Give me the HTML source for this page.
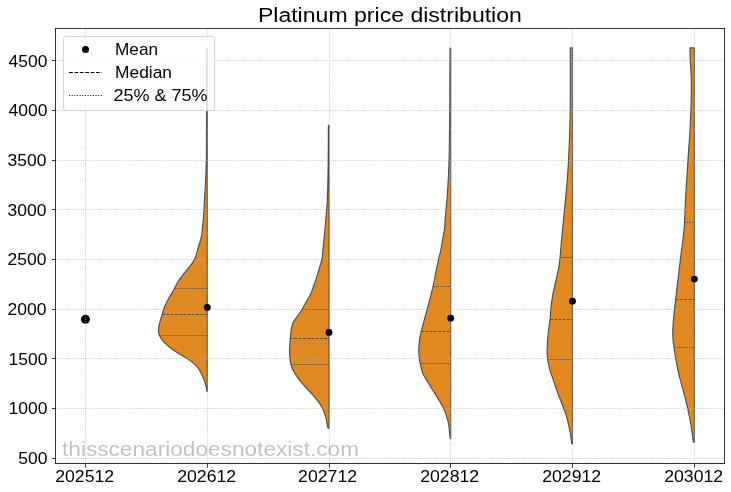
<!DOCTYPE html><html><head><meta charset="utf-8"><title>Platinum price distribution</title>
<style>html,body{margin:0;padding:0;background:#fff;}svg{display:block;will-change:transform;}text{font-family:"Liberation Sans",sans-serif;}</style></head><body>
<svg width="731" height="492" viewBox="0 0 731 492">
<rect x="0" y="0" width="731" height="492" fill="#fff"/>
<path d="M206.70,48.30 C206.68,56.92 206.63,83.05 206.60,100.00 C206.57,116.95 206.58,138.62 206.50,150.00 C206.42,161.38 206.25,163.22 206.10,168.30 C205.95,173.38 205.80,176.43 205.60,180.50 C205.40,184.57 205.13,188.62 204.90,192.70 C204.67,196.78 204.35,202.10 204.20,205.00 C204.05,207.90 204.10,208.40 204.00,210.10 C203.90,211.80 203.73,213.50 203.60,215.20 C203.47,216.90 203.37,218.62 203.20,220.30 C203.03,221.98 202.77,223.62 202.60,225.30 C202.43,226.98 202.37,228.70 202.20,230.40 C202.03,232.10 201.92,233.80 201.60,235.50 C201.28,237.20 200.77,238.90 200.30,240.60 C199.83,242.30 199.30,244.00 198.80,245.70 C198.30,247.40 197.73,249.25 197.30,250.80 C196.87,252.35 196.63,253.62 196.20,255.00 C195.77,256.38 195.37,257.75 194.70,259.10 C194.03,260.45 193.15,261.75 192.20,263.10 C191.25,264.45 190.08,265.83 189.00,267.20 C187.92,268.57 186.78,269.95 185.70,271.30 C184.62,272.65 183.52,273.95 182.50,275.30 C181.48,276.65 180.52,278.03 179.60,279.40 C178.68,280.77 177.77,282.15 177.00,283.50 C176.23,284.85 175.57,286.42 175.00,287.50 C174.43,288.58 174.28,288.82 173.60,290.00 C172.92,291.18 171.78,293.07 170.90,294.60 C170.02,296.13 169.12,297.68 168.30,299.20 C167.48,300.72 166.72,302.18 166.00,303.70 C165.28,305.22 164.57,306.77 164.00,308.30 C163.43,309.83 163.07,311.37 162.60,312.90 C162.13,314.43 161.65,315.98 161.20,317.50 C160.75,319.02 160.30,320.48 159.90,322.00 C159.50,323.52 159.03,325.07 158.80,326.60 C158.57,328.13 158.38,329.72 158.50,331.20 C158.62,332.68 158.98,334.18 159.50,335.50 C160.02,336.82 160.83,337.98 161.60,339.10 C162.37,340.22 163.17,341.18 164.10,342.20 C165.03,343.22 166.07,344.18 167.20,345.20 C168.33,346.22 169.58,347.28 170.90,348.30 C172.22,349.32 173.42,350.22 175.10,351.30 C176.78,352.38 178.85,353.50 181.00,354.80 C183.15,356.10 185.95,357.72 188.00,359.10 C190.05,360.48 191.73,361.75 193.30,363.10 C194.87,364.45 196.25,365.83 197.40,367.20 C198.55,368.57 199.40,369.95 200.20,371.30 C201.00,372.65 201.58,373.95 202.20,375.30 C202.82,376.65 203.40,378.03 203.90,379.40 C204.40,380.77 204.80,382.15 205.20,383.50 C205.60,384.85 206.02,386.18 206.30,387.50 C206.58,388.82 206.80,390.75 206.90,391.40 L207.30,391.40 L207.30,48.30 Z" fill="#df8920" stroke="#4c4c4c" stroke-width="1.125" stroke-linejoin="round"/>
<path d="M328.40,125.40 C328.38,129.50 328.37,141.73 328.30,150.00 C328.23,158.27 328.17,166.67 328.00,175.00 C327.83,183.33 327.58,193.80 327.30,200.00 C327.02,206.20 326.62,208.13 326.30,212.20 C325.98,216.27 325.73,220.33 325.40,224.40 C325.07,228.47 324.70,232.53 324.30,236.60 C323.90,240.67 323.30,245.73 323.00,248.80 C322.70,251.87 322.70,253.20 322.50,255.00 C322.30,256.80 322.12,258.08 321.80,259.60 C321.48,261.12 321.03,262.58 320.60,264.10 C320.17,265.62 319.65,267.17 319.20,268.70 C318.75,270.23 318.35,271.77 317.90,273.30 C317.45,274.83 317.00,276.38 316.50,277.90 C316.00,279.42 315.43,280.88 314.90,282.40 C314.37,283.92 313.85,285.47 313.30,287.00 C312.75,288.53 312.22,290.08 311.60,291.60 C310.98,293.12 310.28,294.77 309.60,296.10 C308.92,297.43 308.28,298.27 307.50,299.60 C306.72,300.93 305.73,302.58 304.90,304.10 C304.07,305.62 303.40,307.17 302.50,308.70 C301.60,310.23 300.53,311.77 299.50,313.30 C298.47,314.83 297.35,316.38 296.30,317.90 C295.25,319.42 293.97,320.88 293.20,322.40 C292.43,323.92 292.07,325.47 291.70,327.00 C291.33,328.53 291.20,330.08 291.00,331.60 C290.80,333.12 290.65,334.70 290.50,336.10 C290.35,337.50 290.20,338.67 290.10,340.00 C290.00,341.33 289.98,342.65 289.90,344.10 C289.82,345.55 289.65,347.17 289.60,348.70 C289.55,350.23 289.55,351.77 289.60,353.30 C289.65,354.83 289.75,356.38 289.90,357.90 C290.05,359.42 290.20,360.88 290.50,362.40 C290.80,363.92 291.15,365.47 291.70,367.00 C292.25,368.53 292.97,370.08 293.80,371.60 C294.63,373.12 295.68,374.60 296.70,376.10 C297.72,377.60 298.57,378.92 299.90,380.60 C301.23,382.28 303.05,384.33 304.70,386.20 C306.35,388.07 308.12,389.95 309.80,391.80 C311.48,393.65 313.22,395.45 314.80,397.30 C316.38,399.15 318.00,401.03 319.30,402.90 C320.60,404.77 321.68,406.63 322.60,408.50 C323.52,410.37 324.18,412.23 324.80,414.10 C325.42,415.97 325.87,417.83 326.30,419.70 C326.73,421.57 327.10,423.87 327.40,425.30 C327.70,426.73 327.98,427.80 328.10,428.30 L329.05,428.30 L329.05,125.40 Z" fill="#df8920" stroke="#4c4c4c" stroke-width="1.125" stroke-linejoin="round"/>
<path d="M450.00,48.10 C449.97,56.75 449.92,83.02 449.80,100.00 C449.68,116.98 449.48,138.33 449.30,150.00 C449.12,161.67 448.90,164.63 448.70,170.00 C448.50,175.37 448.33,178.13 448.10,182.20 C447.87,186.27 447.60,190.33 447.30,194.40 C447.00,198.47 446.65,202.53 446.30,206.60 C445.95,210.67 445.48,215.23 445.20,218.80 C444.92,222.37 445.02,224.60 444.60,228.00 C444.18,231.40 443.35,235.47 442.70,239.20 C442.05,242.93 441.47,246.68 440.70,250.40 C439.93,254.12 438.93,257.78 438.10,261.50 C437.27,265.22 436.32,269.62 435.70,272.70 C435.08,275.78 435.03,276.92 434.40,280.00 C433.77,283.08 432.80,287.47 431.90,291.20 C431.00,294.93 429.98,298.68 429.00,302.40 C428.02,306.12 427.00,309.78 426.00,313.50 C425.00,317.22 423.93,321.12 423.00,324.70 C422.07,328.28 421.00,332.33 420.40,335.00 C419.80,337.67 419.67,338.40 419.40,340.70 C419.13,343.00 418.82,345.82 418.80,348.80 C418.78,351.78 419.08,356.22 419.30,358.60 C419.52,360.98 419.68,361.20 420.10,363.10 C420.52,365.00 421.22,368.02 421.80,370.00 C422.38,371.98 422.65,373.07 423.60,375.00 C424.55,376.93 426.18,379.40 427.50,381.60 C428.82,383.80 430.13,386.00 431.50,388.20 C432.87,390.40 434.32,392.60 435.70,394.80 C437.08,397.00 438.52,399.20 439.80,401.40 C441.08,403.60 442.37,405.80 443.40,408.00 C444.43,410.20 445.23,412.40 446.00,414.60 C446.77,416.80 447.48,419.00 448.00,421.20 C448.52,423.40 448.82,425.60 449.10,427.80 C449.38,430.00 449.52,432.60 449.70,434.40 C449.88,436.20 450.12,437.90 450.20,438.60 L450.70,438.60 L450.70,48.10 Z" fill="#df8920" stroke="#4c4c4c" stroke-width="1.125" stroke-linejoin="round"/>
<path d="M570.20,47.90 C570.22,49.92 570.28,51.32 570.30,60.00 C570.32,68.68 570.38,88.33 570.30,100.00 C570.22,111.67 570.02,121.62 569.80,130.00 C569.58,138.38 569.32,143.53 569.00,150.30 C568.68,157.07 568.35,163.83 567.90,170.60 C567.45,177.37 566.90,184.12 566.30,190.90 C565.70,197.68 564.85,205.62 564.30,211.30 C563.75,216.98 563.38,221.02 563.00,225.00 C562.62,228.98 562.32,231.82 562.00,235.20 C561.68,238.58 561.42,241.65 561.10,245.30 C560.78,248.95 560.43,253.72 560.10,257.10 C559.77,260.48 559.62,262.48 559.10,265.60 C558.58,268.72 557.75,272.42 557.00,275.80 C556.25,279.18 555.33,282.52 554.60,285.90 C553.87,289.28 553.18,292.70 552.60,296.10 C552.02,299.50 551.53,302.40 551.10,306.30 C550.67,310.20 550.38,315.87 550.00,319.50 C549.62,323.13 549.15,325.30 548.80,328.10 C548.45,330.90 548.15,333.58 547.90,336.30 C547.65,339.02 547.43,341.70 547.30,344.40 C547.17,347.10 547.05,350.00 547.10,352.50 C547.15,355.00 547.20,356.68 547.60,359.40 C548.00,362.12 548.72,365.87 549.50,368.80 C550.28,371.73 551.38,374.28 552.30,377.00 C553.22,379.72 554.08,382.40 555.00,385.10 C555.92,387.80 556.73,390.35 557.80,393.20 C558.87,396.05 560.42,399.68 561.40,402.20 C562.38,404.72 562.95,406.27 563.70,408.30 C564.45,410.33 565.25,412.37 565.90,414.40 C566.55,416.43 567.08,418.47 567.60,420.50 C568.12,422.53 568.57,424.57 569.00,426.60 C569.43,428.63 569.85,430.67 570.20,432.70 C570.55,434.73 570.83,436.93 571.10,438.80 C571.37,440.67 571.68,443.05 571.80,443.90 L572.50,443.90 L572.50,47.90 Z" fill="#df8920" stroke="#4c4c4c" stroke-width="1.125" stroke-linejoin="round"/>
<path d="M690.00,47.90 C690.03,49.97 690.05,56.53 690.20,60.30 C690.35,64.07 690.72,67.12 690.90,70.50 C691.08,73.88 691.25,75.53 691.30,80.60 C691.35,85.67 691.33,94.12 691.20,100.90 C691.07,107.68 690.80,114.78 690.50,121.30 C690.20,127.82 689.72,135.17 689.40,140.00 C689.08,144.83 688.95,145.20 688.60,150.30 C688.25,155.40 687.73,163.83 687.30,170.60 C686.87,177.37 686.38,184.12 686.00,190.90 C685.62,197.68 685.27,205.62 685.00,211.30 C684.73,216.98 684.78,220.02 684.40,225.00 C684.02,229.98 683.33,235.78 682.70,241.20 C682.07,246.62 681.27,252.08 680.60,257.50 C679.93,262.92 679.35,268.30 678.70,273.70 C678.05,279.10 677.20,285.62 676.70,289.90 C676.20,294.18 676.05,296.37 675.70,299.40 C675.35,302.43 674.92,305.30 674.60,308.10 C674.28,310.90 674.05,313.48 673.80,316.20 C673.55,318.92 673.27,321.68 673.10,324.40 C672.93,327.12 672.80,329.80 672.80,332.50 C672.80,335.20 672.90,338.12 673.10,340.60 C673.30,343.08 673.62,344.70 674.00,347.40 C674.38,350.10 674.90,353.88 675.40,356.80 C675.90,359.72 676.47,362.18 677.00,364.90 C677.53,367.62 677.93,370.15 678.60,373.10 C679.27,376.05 680.25,379.75 681.00,382.60 C681.75,385.45 682.42,387.65 683.10,390.20 C683.78,392.75 684.45,395.35 685.10,397.90 C685.75,400.45 686.40,402.97 687.00,405.50 C687.60,408.03 688.17,410.57 688.70,413.10 C689.23,415.63 689.73,418.15 690.20,420.70 C690.67,423.25 691.12,425.85 691.50,428.40 C691.88,430.95 692.20,433.70 692.50,436.00 C692.80,438.30 693.17,441.17 693.30,442.20 L694.40,442.20 L694.40,47.90 Z" fill="#df8920" stroke="#4c4c4c" stroke-width="1.125" stroke-linejoin="round"/>
<circle cx="85.45" cy="319.3" r="4.5" fill="#000"/>
<line x1="85.50" y1="28.50" x2="85.50" y2="463.50" stroke="#b0b0b0" stroke-width="0.8" stroke-dasharray="0.8 1.32"/>
<line x1="207.50" y1="28.50" x2="207.50" y2="463.50" stroke="#b0b0b0" stroke-width="0.8" stroke-dasharray="0.8 1.32"/>
<line x1="329.50" y1="28.50" x2="329.50" y2="463.50" stroke="#b0b0b0" stroke-width="0.8" stroke-dasharray="0.8 1.32"/>
<line x1="450.50" y1="28.50" x2="450.50" y2="463.50" stroke="#b0b0b0" stroke-width="0.8" stroke-dasharray="0.8 1.32"/>
<line x1="572.50" y1="28.50" x2="572.50" y2="463.50" stroke="#b0b0b0" stroke-width="0.8" stroke-dasharray="0.8 1.32"/>
<line x1="694.50" y1="28.50" x2="694.50" y2="463.50" stroke="#b0b0b0" stroke-width="0.8" stroke-dasharray="0.8 1.32"/>
<line x1="55.50" y1="458.50" x2="724.50" y2="458.50" stroke="#b0b0b0" stroke-width="0.8" stroke-dasharray="0.8 1.32"/>
<line x1="55.50" y1="408.50" x2="724.50" y2="408.50" stroke="#b0b0b0" stroke-width="0.8" stroke-dasharray="0.8 1.32"/>
<line x1="55.50" y1="358.50" x2="724.50" y2="358.50" stroke="#b0b0b0" stroke-width="0.8" stroke-dasharray="0.8 1.32"/>
<line x1="55.50" y1="309.50" x2="724.50" y2="309.50" stroke="#b0b0b0" stroke-width="0.8" stroke-dasharray="0.8 1.32"/>
<line x1="55.50" y1="259.50" x2="724.50" y2="259.50" stroke="#b0b0b0" stroke-width="0.8" stroke-dasharray="0.8 1.32"/>
<line x1="55.50" y1="209.50" x2="724.50" y2="209.50" stroke="#b0b0b0" stroke-width="0.8" stroke-dasharray="0.8 1.32"/>
<line x1="55.50" y1="160.50" x2="724.50" y2="160.50" stroke="#b0b0b0" stroke-width="0.8" stroke-dasharray="0.8 1.32"/>
<line x1="55.50" y1="110.50" x2="724.50" y2="110.50" stroke="#b0b0b0" stroke-width="0.8" stroke-dasharray="0.8 1.32"/>
<line x1="55.50" y1="60.50" x2="724.50" y2="60.50" stroke="#b0b0b0" stroke-width="0.8" stroke-dasharray="0.8 1.32"/>
<line x1="174.44" y1="288.50" x2="207.30" y2="288.50" stroke="#4c4c4c" stroke-width="1.125" stroke-dasharray="1.25 1.25"/>
<line x1="162.11" y1="314.50" x2="207.30" y2="314.50" stroke="#4c4c4c" stroke-width="1.125" stroke-dasharray="2.85 1.4"/>
<line x1="159.50" y1="335.50" x2="207.30" y2="335.50" stroke="#4c4c4c" stroke-width="1.125" stroke-dasharray="1.25 1.25"/>
<line x1="301.98" y1="309.50" x2="329.05" y2="309.50" stroke="#4c4c4c" stroke-width="1.125" stroke-dasharray="1.25 1.25"/>
<line x1="290.25" y1="338.50" x2="329.05" y2="338.50" stroke="#4c4c4c" stroke-width="1.125" stroke-dasharray="2.85 1.4"/>
<line x1="291.05" y1="364.50" x2="329.05" y2="364.50" stroke="#4c4c4c" stroke-width="1.125" stroke-dasharray="1.25 1.25"/>
<line x1="432.95" y1="286.50" x2="450.70" y2="286.50" stroke="#4c4c4c" stroke-width="1.125" stroke-dasharray="1.25 1.25"/>
<line x1="421.28" y1="331.50" x2="450.70" y2="331.50" stroke="#4c4c4c" stroke-width="1.125" stroke-dasharray="2.85 1.4"/>
<line x1="420.20" y1="363.50" x2="450.70" y2="363.50" stroke="#4c4c4c" stroke-width="1.125" stroke-dasharray="1.25 1.25"/>
<line x1="560.05" y1="257.50" x2="572.50" y2="257.50" stroke="#4c4c4c" stroke-width="1.125" stroke-dasharray="1.25 1.25"/>
<line x1="550.00" y1="319.50" x2="572.50" y2="319.50" stroke="#4c4c4c" stroke-width="1.125" stroke-dasharray="2.85 1.4"/>
<line x1="547.62" y1="359.50" x2="572.50" y2="359.50" stroke="#4c4c4c" stroke-width="1.125" stroke-dasharray="1.25 1.25"/>
<line x1="684.51" y1="222.50" x2="694.40" y2="222.50" stroke="#4c4c4c" stroke-width="1.125" stroke-dasharray="1.25 1.25"/>
<line x1="675.69" y1="299.50" x2="694.40" y2="299.50" stroke="#4c4c4c" stroke-width="1.125" stroke-dasharray="2.85 1.4"/>
<line x1="674.01" y1="347.50" x2="694.40" y2="347.50" stroke="#4c4c4c" stroke-width="1.125" stroke-dasharray="1.25 1.25"/>
<circle cx="207.30" cy="307.40" r="3.4" fill="#000"/>
<circle cx="329.05" cy="332.40" r="3.4" fill="#000"/>
<circle cx="450.70" cy="318.20" r="3.4" fill="#000"/>
<circle cx="572.50" cy="301.20" r="3.4" fill="#000"/>
<circle cx="694.40" cy="279.10" r="3.4" fill="#000"/>
<text x="62" y="455.8" font-size="20" fill="#000" fill-opacity="0.25" textLength="297" lengthAdjust="spacingAndGlyphs">thisscenariodoesnotexist.com</text>
<line x1="55.50" y1="28.50" x2="55.50" y2="463.50" stroke="#000" stroke-width="0.8" stroke-linecap="square"/>
<line x1="724.50" y1="28.50" x2="724.50" y2="463.50" stroke="#000" stroke-width="0.8" stroke-linecap="square"/>
<line x1="55.50" y1="28.50" x2="724.50" y2="28.50" stroke="#000" stroke-width="0.8" stroke-linecap="square"/>
<line x1="55.50" y1="463.50" x2="724.50" y2="463.50" stroke="#000" stroke-width="0.8" stroke-linecap="square"/>
<line x1="85.50" y1="463.50" x2="85.50" y2="467.70" stroke="#000" stroke-width="0.8"/>
<line x1="207.50" y1="463.50" x2="207.50" y2="467.70" stroke="#000" stroke-width="0.8"/>
<line x1="329.50" y1="463.50" x2="329.50" y2="467.70" stroke="#000" stroke-width="0.8"/>
<line x1="450.50" y1="463.50" x2="450.50" y2="467.70" stroke="#000" stroke-width="0.8"/>
<line x1="572.50" y1="463.50" x2="572.50" y2="467.70" stroke="#000" stroke-width="0.8"/>
<line x1="694.50" y1="463.50" x2="694.50" y2="467.70" stroke="#000" stroke-width="0.8"/>
<line x1="51.90" y1="458.50" x2="55.50" y2="458.50" stroke="#000" stroke-width="0.8"/>
<line x1="51.90" y1="408.50" x2="55.50" y2="408.50" stroke="#000" stroke-width="0.8"/>
<line x1="51.90" y1="358.50" x2="55.50" y2="358.50" stroke="#000" stroke-width="0.8"/>
<line x1="51.90" y1="309.50" x2="55.50" y2="309.50" stroke="#000" stroke-width="0.8"/>
<line x1="51.90" y1="259.50" x2="55.50" y2="259.50" stroke="#000" stroke-width="0.8"/>
<line x1="51.90" y1="209.50" x2="55.50" y2="209.50" stroke="#000" stroke-width="0.8"/>
<line x1="51.90" y1="160.50" x2="55.50" y2="160.50" stroke="#000" stroke-width="0.8"/>
<line x1="51.90" y1="110.50" x2="55.50" y2="110.50" stroke="#000" stroke-width="0.8"/>
<line x1="51.90" y1="60.50" x2="55.50" y2="60.50" stroke="#000" stroke-width="0.8"/>
<text x="84.70" y="482" font-size="16.4" text-anchor="middle" textLength="59" lengthAdjust="spacingAndGlyphs">202512</text>
<text x="206.70" y="482" font-size="16.4" text-anchor="middle" textLength="59" lengthAdjust="spacingAndGlyphs">202612</text>
<text x="327.60" y="482" font-size="16.4" text-anchor="middle" textLength="59" lengthAdjust="spacingAndGlyphs">202712</text>
<text x="449.70" y="482" font-size="16.4" text-anchor="middle" textLength="59" lengthAdjust="spacingAndGlyphs">202812</text>
<text x="571.70" y="482" font-size="16.4" text-anchor="middle" textLength="59" lengthAdjust="spacingAndGlyphs">202912</text>
<text x="693.70" y="482" font-size="16.4" text-anchor="middle" textLength="59" lengthAdjust="spacingAndGlyphs">203012</text>
<text x="47.40" y="464.10" font-size="16.4" text-anchor="end" textLength="29.25" lengthAdjust="spacingAndGlyphs">500</text>
<text x="47.40" y="413.80" font-size="16.4" text-anchor="end" textLength="39.00" lengthAdjust="spacingAndGlyphs">1000</text>
<text x="47.40" y="364.85" font-size="16.4" text-anchor="end" textLength="39.00" lengthAdjust="spacingAndGlyphs">1500</text>
<text x="46.40" y="314.80" font-size="16.4" text-anchor="end" textLength="39.00" lengthAdjust="spacingAndGlyphs">2000</text>
<text x="46.40" y="264.80" font-size="16.4" text-anchor="end" textLength="39.00" lengthAdjust="spacingAndGlyphs">2500</text>
<text x="46.40" y="215.85" font-size="16.4" text-anchor="end" textLength="39.00" lengthAdjust="spacingAndGlyphs">3000</text>
<text x="46.40" y="165.85" font-size="16.4" text-anchor="end" textLength="39.00" lengthAdjust="spacingAndGlyphs">3500</text>
<text x="47.40" y="115.85" font-size="16.4" text-anchor="end" textLength="39.00" lengthAdjust="spacingAndGlyphs">4000</text>
<text x="47.40" y="66.90" font-size="16.4" text-anchor="end" textLength="39.00" lengthAdjust="spacingAndGlyphs">4500</text>
<text x="389.9" y="21.8" font-size="19.6" text-anchor="middle" textLength="264" lengthAdjust="spacingAndGlyphs">Platinum price distribution</text>
<rect x="63.5" y="36.5" width="151" height="74" rx="2.5" ry="2.5" fill="#fff" fill-opacity="0.8" stroke="#ccc" stroke-opacity="0.8" stroke-width="1"/>
<circle cx="85.5" cy="49.4" r="3.5" fill="#000"/>
<line x1="69.1" y1="72.5" x2="101.9" y2="72.5" stroke="#000" stroke-width="1" stroke-dasharray="3.76 1.62"/>
<line x1="69.1" y1="95.5" x2="101.9" y2="95.5" stroke="#000" stroke-width="1" stroke-dasharray="1 1.65"/>
<text x="115" y="54.8" font-size="16.2" textLength="43" lengthAdjust="spacingAndGlyphs">Mean</text>
<text x="115" y="77.8" font-size="16.2" textLength="57" lengthAdjust="spacingAndGlyphs">Median</text>
<text x="113.5" y="100.6" font-size="16.2" textLength="94" lengthAdjust="spacingAndGlyphs">25% &amp; 75%</text>
</svg></body></html>
